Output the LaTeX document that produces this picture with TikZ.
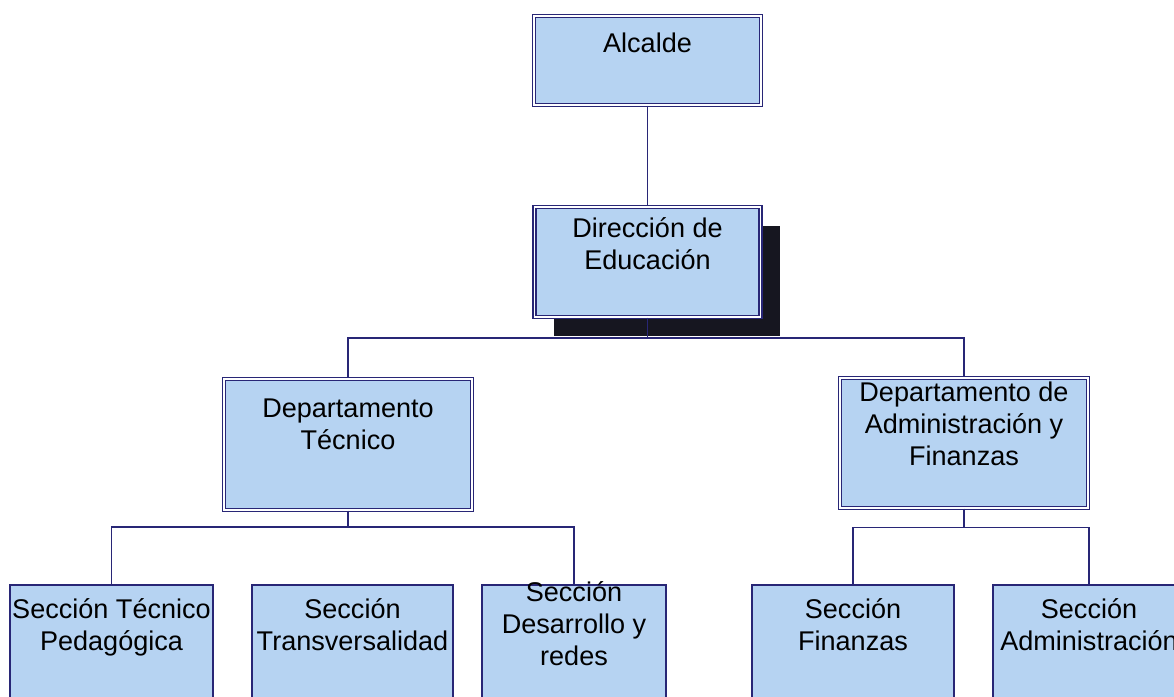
\documentclass[tikz,border=0pt]{standalone}
\usepackage{fontspec}
\setmainfont{Liberation Sans}
\usetikzlibrary{shadows}
\definecolor{cajaazul}{RGB}{182,211,242}
\definecolor{lineaazul}{RGB}{40,38,118}
\definecolor{sombra}{RGB}{22,22,32}
\newcommand{\cargo}[4]{\parbox[t][#2cm][t]{#1cm}{\centering\vspace*{#3cm}\strut #4}}
\tikzset{
  unidad/.style={draw=lineaazul, line width=0.6pt, double=white, double distance=1.1pt,
    fill=cajaazul, inner sep=0pt, font=\fontsize{15.4}{18.2}\selectfont},
  seccion/.style={draw=lineaazul, line width=0.7pt, fill=cajaazul, inner sep=0pt,
    font=\fontsize{15.4}{18.2}\selectfont},
  enlace/.style={draw=lineaazul, line width=0.7pt}
}
\begin{document}
\begin{tikzpicture}
\useasboundingbox (0,0) rectangle (23.48,-13.92);
\clip (0,0) rectangle (23.48,-13.92);
%top
\node[unidad] (alc) at (12.95,-1.21) {\cargo{4.54}{1.78}{0.29}{Alcalde}};
\node[unidad, drop shadow={fill=sombra, opacity=1, shadow xshift=0.38cm, shadow yshift=-0.38cm}]
  (dir) at (12.95,-5.24) {\cargo{4.52}{2.20}{0.17}{Dirección de\\Educación}};
%departments
\node[unidad] (dtec) at (6.96,-8.89) {\cargo{4.96}{2.62}{0.33}{Departamento\\Técnico}};
\node[unidad] (dadm) at (19.28,-8.86) {\cargo{4.96}{2.60}{0.03}{Departamento de\\Administración y\\Finanzas}};
%sections
\node[seccion] (stp) at (2.23,-13.10) {\cargo{4.06}{2.80}{0.23}{Sección Técnico\\Pedagógica}};
\node[seccion] (str) at (7.05,-13.10) {\cargo{4.02}{2.80}{0.23}{Sección\\Transversalidad}};
\node[seccion] (sdr) at (11.48,-13.10) {\cargo{3.68}{2.80}{-0.11}{Sección\\Desarrollo y\\redes}};
\node[seccion] (sfin) at (17.06,-13.10) {\cargo{4.04}{2.80}{0.23}{Sección\\Finanzas}};
\node[seccion] (sadm) at (21.78,-13.10) {\cargo{3.84}{2.80}{0.23}{Sección\\Administración}};
%lines
\draw[enlace] (alc.south) -- (dir.north);
\draw[enlace] (dir.south) -- ++(0,-0.41) coordinate (b1);
\draw[enlace] (b1) -| (dtec.north);
\draw[enlace] (b1) -| (dadm.north);
%
\draw[enlace] (dtec.south) -- ++(0,-0.33) coordinate (b2);
\draw[enlace] (b2) -| (stp.north);
\draw[enlace] (b2) -| (sdr.north);
%
\draw[enlace] (dadm.south) -- ++(0,-0.38) coordinate (b3);
\draw[enlace] (b3) -| (sfin.north);
\draw[enlace] (b3) -| (sadm.north);
\end{tikzpicture}
\end{document}
